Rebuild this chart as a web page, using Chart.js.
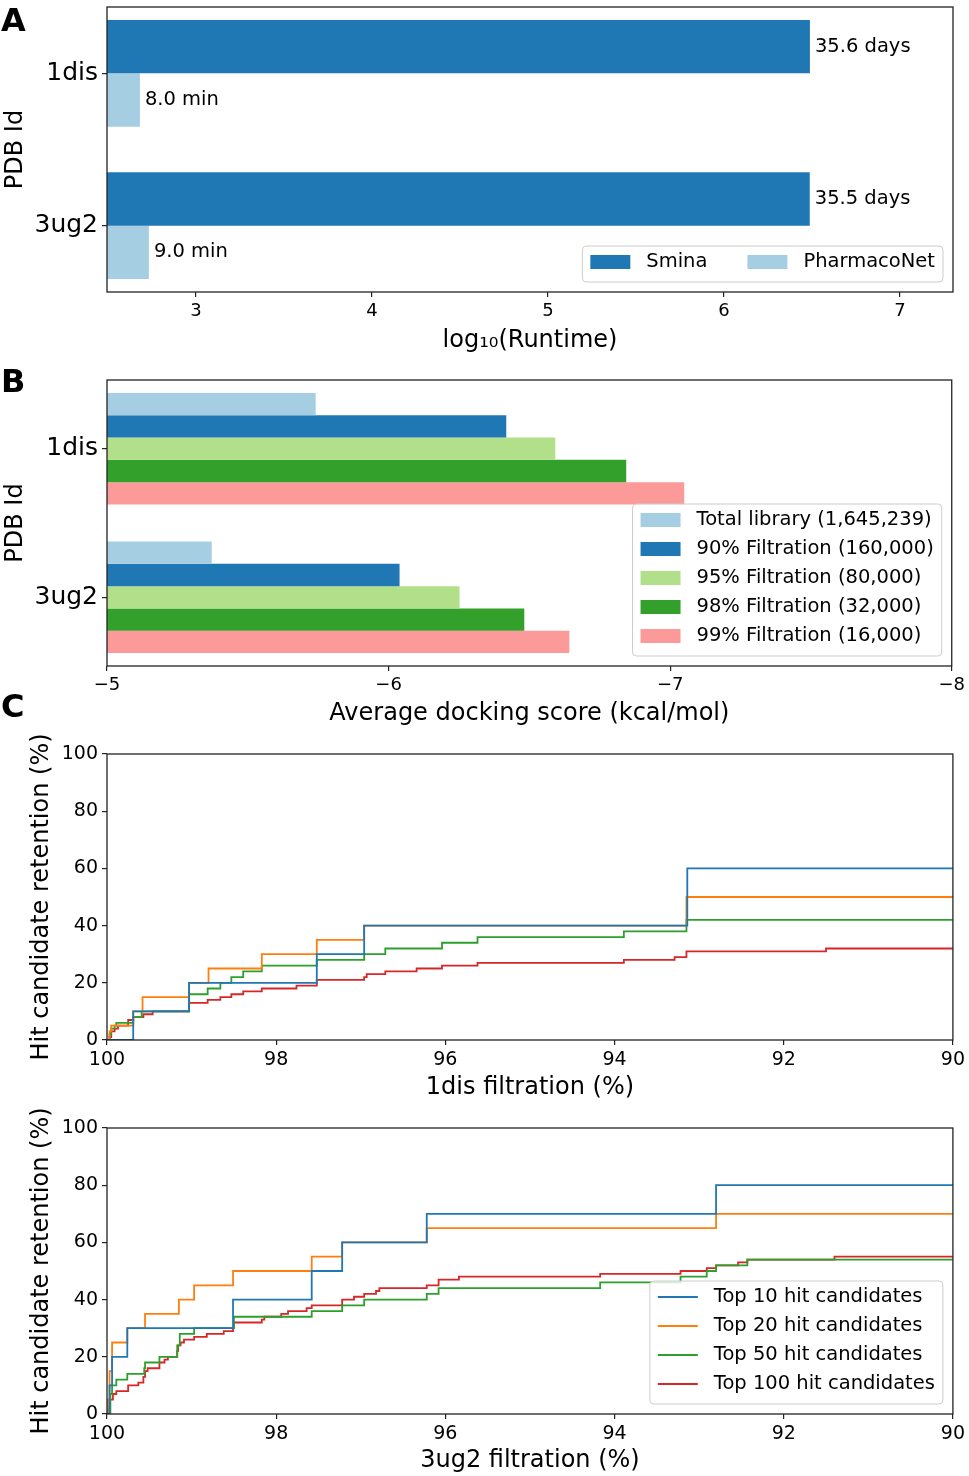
<!DOCTYPE html>
<html>
<head>
<meta charset="utf-8">
<script src="https://cdn.jsdelivr.net/npm/chart.js@4.4.1/dist/chart.umd.min.js"></script>
<style>
  html, body { margin: 0; padding: 0; background: #fff; }
  #wrap { position: relative; width: 969px; height: 1476px; overflow: hidden; }
  canvas { position: absolute; left: 0; }
  .tag { position: absolute; left: 1px; font: bold 32px 'DejaVu Sans'; line-height: 1; color: #000; }
</style>
</head>
<body>
<div id="wrap">
  <canvas id="chartA" width="969" height="360" style="top:0"></canvas>
  <canvas id="chartB" width="969" height="372" style="top:360px"></canvas>
  <canvas id="chartC1" width="969" height="390" style="top:720px"></canvas>
  <canvas id="chartC2" width="969" height="386" style="top:1090px"></canvas>
  <div class="tag" style="top:4px">A</div>
  <div class="tag" style="top:365px">B</div>
  <div class="tag" style="top:690px">C</div>
</div>
<script>
// --- data ---
const pdbIds = ['1dis', '3ug2'];

// panel A: log10 runtime (seconds)
const runtimeSeries = ['Smina', 'PharmacoNet'];
const sminaLogRuntime = [6.488, 6.487];
const pharmaLogRuntime = [2.681, 2.732];
const sminaRuntimeText = ['35.6 days', '35.5 days'];
const pharmaRuntimeText = ['8.0 min', '9.0 min'];
const runtimeTicks = [3, 4, 5, 6, 7];

// panel B: average docking score
const scoreSeries = ['Total library (1,645,239)', '90% Filtration (160,000)', '95% Filtration (80,000)',
                     '98% Filtration (32,000)', '99% Filtration (16,000)'];
const score1dis = [-5.741, -6.418, -6.592, -6.844, -7.050];
const score3ug2 = [-5.372, -6.039, -6.252, -6.482, -6.642];
const scoreTicks = [-5, -6, -7, -8];

// panel C: hit retention vs filtration (step points)
const hitSeries = ['Top 10 hit candidates', 'Top 20 hit candidates', 'Top 50 hit candidates', 'Top 100 hit candidates'];
const filtrationTicks = [100, 98, 96, 94, 92, 90];
const retentionTicks = [0, 20, 40, 60, 80, 100];

const dis10X = [100, 99.69, 99.03, 97.52, 96.96, 93.14, 90];
const dis10Y = [0, 10, 20, 30, 40, 60, 60];
const dis20X = [100, 99.97, 99.95, 99.69, 99.58, 99.03, 98.80, 98.17, 97.52, 96.96, 93.15, 90];
const dis20Y = [0, 3, 5, 10, 15, 20, 25, 30, 35, 40, 50, 50];
const dis50X = [100, 99.97, 99.95, 99.91, 99.89, 99.69, 99.59, 99.03, 98.81, 98.66, 98.53, 98.39, 98.17,
                97.52, 96.96, 96.71, 96.04, 95.62, 93.89, 93.15, 90];
const dis50Y = [0, 2, 4, 5, 6, 8, 10, 16, 18, 20, 22, 24, 26, 28, 30, 32, 34, 36, 38, 42, 42];
const dis100X = [100, 99.97, 99.95, 99.91, 99.87, 99.75, 99.69, 99.57, 99.46, 99.03, 98.81, 98.66, 98.53,
                 98.39, 98.17, 97.76, 97.52, 96.96, 96.93, 96.71, 96.34, 96.04, 95.62, 93.89, 93.29, 93.15, 91.50, 90];
const dis100Y = [0, 1, 3, 4, 5, 7, 8, 9, 10, 13, 14, 15, 16, 17, 18, 19, 21, 22, 23, 24, 25, 26, 27, 28, 29, 31, 32, 32];

const ug10X = [100, 99.97, 99.94, 99.76, 98.51, 97.58, 97.22, 96.22, 92.80, 90];
const ug10Y = [0, 10, 20, 30, 40, 50, 60, 70, 80, 80];
const ug20X = [100, 99.99, 99.97, 99.94, 99.76, 99.55, 99.15, 98.97, 98.51, 97.58, 97.22, 96.22, 92.80, 90];
const ug20Y = [0, 5, 15, 25, 30, 35, 40, 45, 50, 55, 60, 65, 70, 70];
const ug50X = [100, 99.96, 99.94, 99.89, 99.76, 99.56, 99.55, 99.38, 99.17, 99.14, 98.97, 98.50, 97.58,
               97.22, 96.96, 96.22, 96.08, 94.17, 93.22, 92.91, 92.80, 92.43, 90];
const ug50Y = [0, 7, 10, 12, 14, 16, 18, 20, 24, 28, 30, 34, 36, 38, 40, 42, 44, 46, 48, 50, 52, 54, 54];
const ug100X = [100, 99.99, 99.97, 99.93, 99.89, 99.75, 99.63, 99.57, 99.55, 99.52, 99.38, 99.32, 99.28,
                99.17, 99.16, 99.13, 99.09, 98.97, 98.82, 98.62, 98.51, 98.50, 98.17, 98.14, 97.94, 97.86,
                97.64, 97.58, 97.22, 97.08, 96.96, 96.82, 96.78, 96.22, 96.08, 95.84, 94.17, 93.22, 92.91,
                92.80, 92.54, 92.43, 91.40, 90];
const ug100Y = [0, 2, 5, 7, 8, 10, 11, 13, 15, 16, 18, 19, 20, 22, 24, 25, 26, 27, 28, 29, 30, 32, 33, 34,
                35, 36, 37, 38, 40, 41, 42, 43, 44, 45, 47, 48, 49, 50, 51, 52, 53, 54, 55, 55];

const pairedColors = ['#a6cee3', '#1f78b4', '#b2df8a', '#33a02c', '#fb9a99'];
const lineColors = ['#1f77b4', '#ff7f0e', '#2ca02c', '#d62728'];

Chart.defaults.font.family = "'DejaVu Sans'";
Chart.defaults.color = '#000';
Chart.defaults.animation = false;

// --- helpers ---
const FRAME = '#222';
const setTicks = values => scale => { scale.ticks = values.map(v => ({ value: v })); };
const toPoints = (xs, ys) => xs.map((x, i) => ({ x: x, y: ys[i] }));
// fixed axis width, no label overhang padding (keeps the plot box where it is in the figure)
const fixWidth = w => s => { s.width = w; s.paddingTop = 0; s.paddingBottom = 0; };
const fixHeight = h => s => { s.height = h; };

const tickGrid = { display: true, offset: false, drawOnChartArea: false, drawTicks: true, tickLength: 5, color: FRAME, lineWidth: 1.2 };

// black box around the axes
const framePlugin = {
    id: 'frame',
    afterDatasetsDraw(chart) {
        const { ctx, chartArea: a } = chart;
        ctx.save();
        ctx.strokeStyle = FRAME;
        ctx.lineWidth = 1.3;
        ctx.strokeRect(a.left, a.top, a.right - a.left, a.bottom - a.top);
        ctx.restore();
    }
};

// text at the end of each bar (panel A)
const barTextPlugin = {
    id: 'barText',
    afterDatasetsDraw(chart, args, opts) {
        if (!opts.texts) return;
        const ctx = chart.ctx;
        ctx.save();
        ctx.font = '19.5px "DejaVu Sans"';
        ctx.fillStyle = '#000';
        ctx.textBaseline = 'middle';
        chart.data.datasets.forEach((ds, di) => {
            chart.getDatasetMeta(di).data.forEach((bar, i) => {
                ctx.fillText(opts.texts[di][i], bar.x + 5, bar.y);
            });
        });
        ctx.restore();
    }
};

// matplotlib-like legend box in the lower right corner
const boxLegendPlugin = {
    id: 'boxLegend',
    afterDatasetsDraw(chart, args, opts) {
        if (!opts.show) return;
        const { ctx, chartArea: a } = chart;
        const pad = 8, handle = 40, gap = 16, colGap = 40, pitch = 29;
        const cols = opts.cols || 1;
        const items = chart.data.datasets.map(d => ({ label: d.label, color: d.borderColor || d.backgroundColor }));
        const rows = Math.ceil(items.length / cols);
        ctx.save();
        ctx.font = '19.5px "DejaVu Sans"';
        const colW = [];
        items.forEach((it, i) => {
            const c = i % cols;
            colW[c] = Math.max(colW[c] || 0, ctx.measureText(it.label).width);
        });
        let w = pad * 2 + colGap * (cols - 1);
        colW.forEach(t => { w += handle + gap + t; });
        const h = pad * 2 + rows * pitch - 9;
        const x0 = a.right - 10 - w, y0 = a.bottom - 10 - h;
        ctx.beginPath();
        ctx.roundRect(x0, y0, w, h, 4);
        ctx.fillStyle = 'rgba(255,255,255,0.8)';
        ctx.fill();
        ctx.strokeStyle = '#cccccc';
        ctx.lineWidth = 1;
        ctx.stroke();
        ctx.textBaseline = 'middle';
        items.forEach((it, i) => {
            const c = i % cols, r = Math.floor(i / cols);
            let cx = x0 + pad;
            for (let k = 0; k < c; k++) cx += handle + gap + colW[k] + colGap;
            const cy = y0 + pad + 8 + r * pitch;
            if (opts.lines) {
                ctx.strokeStyle = it.color;
                ctx.lineWidth = 1.8;
                ctx.beginPath();
                ctx.moveTo(cx, cy);
                ctx.lineTo(cx + handle, cy);
                ctx.stroke();
            } else {
                ctx.fillStyle = it.color;
                ctx.fillRect(cx, cy - 7, handle, 14);
            }
            ctx.fillStyle = '#000';
            ctx.fillText(it.label, cx + handle + gap, cy);
        });
        ctx.restore();
    }
};

const plugins = [framePlugin, barTextPlugin, boxLegendPlugin];

// --- A. runtime bars ---
new Chart(document.getElementById('chartA'), {
    type: 'bar',
    data: {
        datasets: [
            { label: runtimeSeries[0], data: toPoints(sminaLogRuntime, [0, 1]), backgroundColor: pairedColors[1] },
            { label: runtimeSeries[1], data: toPoints(pharmaLogRuntime, [0, 1]), backgroundColor: pairedColors[0] }
        ]
    },
    options: {
        responsive: false,
        indexAxis: 'y',
        layout: { padding: { top: 7, right: 16, left: 0, bottom: 0 } },
        categoryPercentage: 0.7,
        barPercentage: 1,
        plugins: {
            legend: { display: false }, tooltip: { enabled: false },
            barText: { texts: [sminaRuntimeText, pharmaRuntimeText] },
            boxLegend: { show: true, cols: 2 }
        },
        scales: {
            x: {
                type: 'linear', min: 2.494, max: 7.301, offset: false,
                afterBuildTicks: setTicks(runtimeTicks),
                afterFit: fixHeight(68),
                grid: tickGrid, border: { display: false },
                ticks: { font: { size: 18 }, padding: 4, maxRotation: 0 },
                title: { display: true, text: 'log\u2081\u2080(Runtime)', font: { size: 24 }, padding: { top: 0, bottom: 5 } }
            },
            y: {
                type: 'linear', reverse: true, min: -0.435, max: 1.435, offset: false,
                afterBuildTicks: setTicks([0, 1]),
                afterFit: fixWidth(107),
                grid: tickGrid, border: { display: false },
                ticks: { font: { size: 25 }, padding: 4, callback: v => pdbIds[v] },
                title: { display: true, text: 'PDB Id', font: { size: 24 }, padding: { top: 1, bottom: 0 } }
            }
        }
    },
    plugins: plugins
});

// --- B. docking score bars ---
new Chart(document.getElementById('chartB'), {
    type: 'bar',
    data: {
        datasets: scoreSeries.map((name, i) => ({
            label: name,
            data: toPoints([score1dis[i], score3ug2[i]], [0, 1]),
            backgroundColor: pairedColors[i]
        }))
    },
    options: {
        responsive: false,
        indexAxis: 'y',
        layout: { padding: { top: 20, right: 16, left: 0, bottom: 0 } },
        categoryPercentage: 0.75,
        barPercentage: 1,
        plugins: {
            legend: { display: false }, tooltip: { enabled: false },
            boxLegend: { show: true, cols: 1 }
        },
        scales: {
            x: {
                type: 'linear', reverse: true, min: -8, max: -5, offset: false,
                afterBuildTicks: setTicks(scoreTicks),
                afterFit: fixHeight(66),
                grid: tickGrid, border: { display: false },
                ticks: { font: { size: 18 }, padding: 4, maxRotation: 0, callback: v => '\u2212' + Math.abs(v) },
                title: { display: true, text: 'Average docking score (kcal/mol)', font: { size: 24 }, padding: { top: 0, bottom: 4 } }
            },
            y: {
                type: 'linear', reverse: true, min: -0.4625, max: 1.4625, offset: false,
                afterBuildTicks: setTicks([0, 1]),
                afterFit: fixWidth(107),
                grid: tickGrid, border: { display: false },
                ticks: { font: { size: 25 }, padding: 4, callback: v => pdbIds[v] },
                title: { display: true, text: 'PDB Id', font: { size: 24 }, padding: { top: 1, bottom: 0 } }
            }
        }
    },
    plugins: plugins
});

// --- C. retention step lines ---
function retentionChart(id, xsList, ysList, xTitle, top, xHeight, titlePad, showLegend) {
    return new Chart(document.getElementById(id), {
        type: 'line',
        data: {
            datasets: hitSeries.map((name, i) => ({
                label: name,
                data: toPoints(xsList[i], ysList[i]),
                borderColor: lineColors[i],
                backgroundColor: lineColors[i],
                borderWidth: 1.8,
                pointRadius: 0,
                stepped: 'before',
                fill: false
            }))
        },
        options: {
            responsive: false,
            layout: { padding: { top: top, right: 16, left: 0, bottom: 0 } },
            plugins: {
                legend: { display: false }, tooltip: { enabled: false },
                boxLegend: { show: showLegend, cols: 1, lines: true }
            },
            scales: {
                x: {
                    type: 'linear', reverse: true, min: 90, max: 100,
                    afterBuildTicks: setTicks(filtrationTicks),
                    afterFit: fixHeight(xHeight),
                    grid: tickGrid, border: { display: false },
                    ticks: { font: { size: 19 }, padding: 4, maxRotation: 0 },
                    title: { display: true, text: xTitle, font: { size: 24 }, padding: { top: 0, bottom: titlePad } }
                },
                y: {
                    type: 'linear', min: 0, max: 100,
                    afterBuildTicks: setTicks(retentionTicks),
                    afterFit: fixWidth(107),
                    grid: tickGrid, border: { display: false },
                    ticks: { font: { size: 19 }, padding: 4 },
                    title: { display: true, text: 'Hit candidate retention (%)', font: { size: 24 }, padding: { top: 27, bottom: 0 } }
                }
            }
        },
        plugins: plugins
    });
}

retentionChart('chartC1', [dis10X, dis20X, dis50X, dis100X], [dis10Y, dis20Y, dis50Y, dis100Y],
               '1dis filtration (%)', 34, 70, 8, false);
retentionChart('chartC2', [ug10X, ug20X, ug50X, ug100X], [ug10Y, ug20Y, ug50Y, ug100Y],
               '3ug2 filtration (%)', 38, 62, 1, true);
</script>
</body>
</html>
